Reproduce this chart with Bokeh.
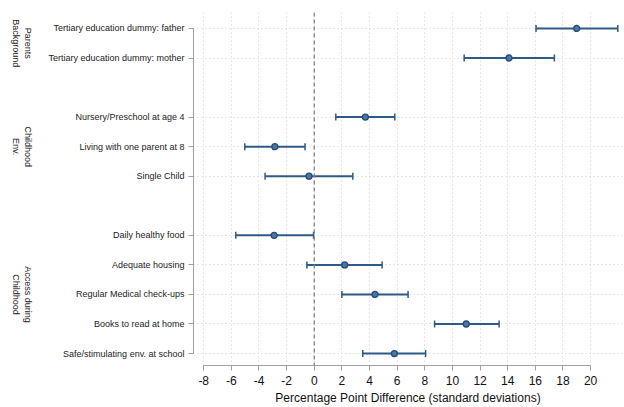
import math
from bokeh.plotting import figure
from bokeh.layouts import row
from bokeh.models import (Range1d, FixedTicker, ColumnDataSource, Whisker, TeeHead, Span)
from bokeh.core.properties import value
from bokeh.embed import file_html
from bokeh.resources import INLINE

# ---- data ----
group_names = ["Parents\nBackground", "Childhood\nEnv.", "Access during\nChildhood"]
group_items = [
    ["Tertiary education dummy: father", "Tertiary education dummy: mother"],
    ["Nursery/Preschool at age 4", "Living with one parent at 8", "Single Child"],
    ["Daily healthy food", "Adequate housing", "Regular Medical check-ups",
     "Books to read at home", "Safe/stimulating env. at school"],
]
estimates = [19.0, 14.1, 3.7, -2.85, -0.38, -2.9, 2.2, 4.4, 11.0, 5.8]
ci_low = [16.05, 10.85, 1.56, -5.03, -3.56, -5.68, -0.53, 2.0, 8.71, 3.51]
ci_high = [21.97, 17.38, 5.83, -0.67, 2.79, -0.05, 4.91, 6.79, 13.38, 8.06]
x_ticks = list(range(-8, 21, 2))
x_title = "Percentage Point Difference (standard deviations)"

# ---- layout of rows (one empty row between groups), top row at y=0 going down ----
labels, ypos, group_centers = [], [], []
r = 0
for items in group_items:
    start = r
    for it in items:
        labels.append(it)
        ypos.append(-float(r))
        r += 1
    group_centers.append(-(start + r - 1) / 2)
    r += 1
y_top, y_bot = ypos[0], ypos[-1]

BLUE = "#2d5a87"
GRID = "#cfcfcf"
AXIS = "#a0a0a0"
FONT = "Liberation Sans"
TOP, BOTTOM = 12, 41
LEFT_W = 45

yr = Range1d(y_bot - 0.405, y_top + 0.54)

p = figure(width=624 - LEFT_W, height=407, output_backend="svg", toolbar_location=None,
           x_range=Range1d(-8.74, 22.31), y_range=yr,
           min_border_left=192 - LEFT_W, min_border_right=2,
           min_border_top=TOP, min_border_bottom=BOTTOM)
p.outline_line_color = None

# axes
xa = p.xaxis[0]
xa.ticker = FixedTicker(ticks=x_ticks)
xa.bounds = (float(x_ticks[0]), float(x_ticks[-1]))
xa.axis_label = x_title
xa.axis_label_text_font = FONT
xa.axis_label_text_font_size = "12px"
xa.axis_label_text_font_style = "normal"
xa.axis_label_text_color = "#111111"
xa.axis_label_standoff = 3
xa.major_label_text_font = FONT
xa.major_label_text_font_size = "12px"
xa.major_label_text_color = "#111111"
xa.major_label_standoff = 5
xa.major_label_overrides = {t: str(t) for t in x_ticks}

ya = p.yaxis[0]
ya.ticker = FixedTicker(ticks=ypos)
ya.bounds = (y_bot, y_top)
ya.major_label_overrides = {y: lb for y, lb in zip(ypos, labels)}
ya.major_label_text_font = FONT
ya.major_label_text_font_size = "9px"
ya.major_label_text_color = "#222222"
ya.major_label_standoff = 4

for ax in (xa, ya):
    ax.axis_line_color = AXIS
    ax.axis_line_width = 1
    ax.major_tick_line_color = AXIS
    ax.major_tick_line_width = 1
    ax.major_tick_out = 5
    ax.major_tick_in = 0
    ax.minor_tick_line_color = None

# grids
p.xgrid.ticker = FixedTicker(ticks=x_ticks)
p.ygrid.ticker = FixedTicker(ticks=ypos)
for g in (p.xgrid, p.ygrid):
    g.grid_line_color = GRID
    g.grid_line_dash = "1 3"
    g.grid_line_width = 1

# zero line
p.add_layout(Span(location=0, dimension="height", line_color="#808080",
                  line_dash="4 3", line_width=1.3))

src = ColumnDataSource(dict(y=ypos, est=estimates, lo=ci_low, hi=ci_high))
p.add_layout(Whisker(source=src, base="y", lower="lo", upper="hi", dimension="width",
                     line_color=BLUE, line_width=2,
                     lower_head=TeeHead(size=7, line_color=BLUE, line_width=1.5),
                     upper_head=TeeHead(size=7, line_color=BLUE, line_width=1.5)))
p.scatter("est", "y", source=src, size=6, marker="circle",
          fill_color="#4f76a0", line_color="#1f4c78", line_width=1.3)

# ---- narrow left panel holding the rotated group labels ----
g = figure(width=LEFT_W, height=407, output_backend="svg", toolbar_location=None,
           x_range=Range1d(0, LEFT_W), y_range=yr,
           x_axis_location=None, y_axis_location=None,
           min_border_left=0, min_border_right=0,
           min_border_top=TOP, min_border_bottom=BOTTOM)
g.outline_line_color = None
g.grid.visible = False
gsrc = ColumnDataSource(dict(y=group_centers, name=group_names,
                             x=[21.5] * len(group_names)))
g.text("x", "y", text="name", source=gsrc, angle=-math.pi / 2,
       text_align="center", text_baseline="middle",
       text_font=value(FONT), text_font_size="9px", text_color="#222222",
       text_line_height=1.2)

open("out.html", "w").write(file_html(row(g, p), INLINE))
